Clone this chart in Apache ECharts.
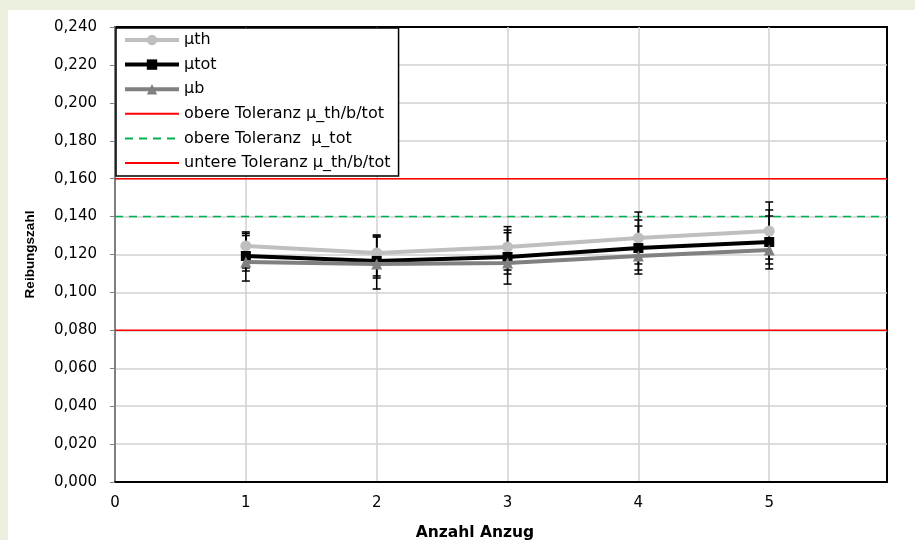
<!DOCTYPE html>
<html>
<head>
<meta charset="utf-8">
<script src="https://cdn.jsdelivr.net/npm/echarts@6/dist/echarts.min.js"></script>
<style>
  html, body { margin: 0; padding: 0; background: #ebf1de; }
  #wrap { position: absolute; left: 0; top: 0; width: 915px; height: 540px; background: #ebf1de; }
  #chart { position: absolute; left: 8px; top: 10px; width: 907px; height: 530px; background: #ffffff; }
</style>
</head>
<body>
<div id="wrap"><div id="chart"></div></div>
<script>
// ---- data ----
const categories = [1, 2, 3, 4, 5];
const muTh  = [0.1245, 0.1208, 0.1240, 0.1287, 0.1324];
const muTot = [0.1192, 0.1166, 0.1187, 0.1234, 0.1266];
const muB   = [0.1160, 0.1150, 0.1155, 0.1192, 0.1224];
const muThHigh  = [0.1319, 0.1303, 0.1347, 0.1424, 0.1477];
const muThLow   = [0.1129, 0.1087, 0.1118, 0.1150, 0.1176];
const muTotHigh = [0.1311, 0.1298, 0.1329, 0.1382, 0.1435];
const muTotLow  = [0.1113, 0.1076, 0.1097, 0.1118, 0.1150];
const muBHigh   = [0.1300, 0.1292, 0.1315, 0.1350, 0.1403];
const muBLow    = [0.1060, 0.1018, 0.1044, 0.1097, 0.1124];
const toleranceX = [0, 5.9];
const upperTol = 0.16;
const upperTolTot = 0.14;
const lowerTol = 0.08;
const seriesNames = ['µth', 'µtot', 'µb', 'obere Toleranz µ_th/b/tot', 'obere Toleranz  µ_tot', 'untere Toleranz µ_th/b/tot'];

const FONT = 'DejaVu Sans, sans-serif';
const TITLE_FONT = 'Liberation Sans, Arial, sans-serif';
const pairs = (ys) => categories.map((x, i) => [x, ys[i]]);
const errData = (lo, hi) => categories.map((x, i) => [x, lo[i], hi[i]]);
const flat = (v) => toleranceX.map(x => [x, v]);

function errRender(params, api) {
  const x = api.value(0), lo = api.value(1), hi = api.value(2);
  const p1 = api.coord([x, hi]), p2 = api.coord([x, lo]);
  const w = 4;
  const st = { stroke: '#000', lineWidth: 1.5 };
  return {
    type: 'group',
    children: [
      { type: 'line', shape: { x1: p1[0], y1: p1[1], x2: p2[0], y2: p2[1] }, style: st },
      { type: 'line', shape: { x1: p1[0] - w, y1: p1[1], x2: p1[0] + w, y2: p1[1] }, style: st },
      { type: 'line', shape: { x1: p2[0] - w, y1: p2[1], x2: p2[0] + w, y2: p2[1] }, style: st }
    ]
  };
}

const hiddenSymbol = { color: 'rgba(0,0,0,0)', borderWidth: 0 };
const legendData = [
  { name: seriesNames[0], lineStyle: { width: 4 } },
  { name: seriesNames[1], lineStyle: { width: 4 } },
  { name: seriesNames[2], lineStyle: { width: 4 } },
  { name: seriesNames[3], itemStyle: hiddenSymbol, lineStyle: { width: 2 } },
  { name: seriesNames[4], itemStyle: hiddenSymbol, lineStyle: { width: 2 } },
  { name: seriesNames[5], itemStyle: hiddenSymbol, lineStyle: { width: 2 } }
];

const chart = echarts.init(document.getElementById('chart'), null, { renderer: 'canvas' });
chart.setOption({
  animation: false,
  backgroundColor: '#ffffff',
  textStyle: { fontFamily: FONT },
  grid: {
    left: 107, top: 17, right: 28, bottom: 58,
    outerBoundsMode: 'none', containLabel: false,
    show: true, borderColor: '#000', borderWidth: 2, backgroundColor: 'transparent'
  },
  legend: {
    data: legendData,
    orient: 'vertical',
    left: 108, top: 18,
    itemWidth: 54, itemHeight: 13, itemGap: 8.6,
    padding: [4, 8, 5, 7],
    backgroundColor: '#fff',
    borderColor: '#000', borderWidth: 1.5, borderRadius: 0,
    textStyle: { fontFamily: FONT, fontSize: 16, color: '#000', lineHeight: 16 },
    z: 20
  },
  xAxis: {
    type: 'value', min: 0, max: 5.9, interval: 1,
    name: 'Anzahl Anzug', nameLocation: 'middle', nameGap: 43,
    nameTextStyle: { fontFamily: FONT, fontSize: 15.5, fontWeight: 'bold', color: '#000', padding: [0, 52, 0, 0] },
    axisLine: { show: true, lineStyle: { color: '#000', width: 2 } },
    axisTick: { show: false },
    axisLabel: {
      fontFamily: FONT, fontSize: 15, color: '#000', margin: 14,
      showMaxLabel: false,
      formatter: (v) => (Math.abs(v - Math.round(v)) < 1e-9 ? String(Math.round(v)) : '')
    },
    splitLine: { show: true, showMaxLine: false, lineStyle: { color: '#d0d0d0', width: 1.5 } }
  },
  yAxis: {
    type: 'value', min: 0, max: 0.24, interval: 0.02,
    name: 'Reibungszahl', nameLocation: 'middle', nameGap: 78,
    nameTextStyle: { fontFamily: TITLE_FONT, fontSize: 13.5, fontWeight: 'bold', color: '#000' },
    axisLine: { show: true, onZero: false, lineStyle: { color: '#808080', width: 2 } },
    axisTick: { show: true, length: 5, lineStyle: { color: '#808080', width: 1 } },
    axisLabel: {
      fontFamily: FONT, fontSize: 15, color: '#000', margin: 18,
      formatter: (v) => v.toFixed(3).replace('.', ',')
    },
    splitLine: { show: true, showMaxLine: false, lineStyle: { color: '#d0d0d0', width: 1.5 } }
  },
  series: [
    { name: 'errTh', type: 'custom', renderItem: errRender, data: errData(muThLow, muThHigh), z: 3, silent: true },
    { name: 'errTot', type: 'custom', renderItem: errRender, data: errData(muTotLow, muTotHigh), z: 3, silent: true },
    { name: 'errB', type: 'custom', renderItem: errRender, data: errData(muBLow, muBHigh), z: 3, silent: true },
    {
      name: seriesNames[0], type: 'line', data: pairs(muTh), z: 4,
      symbol: 'circle', symbolSize: 11,
      lineStyle: { color: '#bfbfbf', width: 4 }, itemStyle: { color: '#bfbfbf' }
    },
    {
      name: seriesNames[1], type: 'line', data: pairs(muTot), z: 5,
      symbol: 'rect', symbolSize: 10,
      lineStyle: { color: '#000', width: 4 }, itemStyle: { color: '#000' }
    },
    {
      name: seriesNames[2], type: 'line', data: pairs(muB), z: 6,
      symbol: 'triangle', symbolSize: 11,
      lineStyle: { color: '#808080', width: 4 }, itemStyle: { color: '#808080' }
    },
    {
      name: seriesNames[3], type: 'line', data: flat(upperTol), z: 2,
      symbol: 'none', lineStyle: { color: '#ff0000', width: 1.5 }, itemStyle: { color: '#ff0000' }
    },
    {
      name: seriesNames[4], type: 'line', data: flat(upperTolTot), z: 2,
      symbol: 'none', lineStyle: { color: '#00b050', width: 1.5, type: [8, 6] }, itemStyle: { color: '#00b050' }
    },
    {
      name: seriesNames[5], type: 'line', data: flat(lowerTol), z: 2,
      symbol: 'none', lineStyle: { color: '#ff0000', width: 1.5 }, itemStyle: { color: '#ff0000' }
    }
  ]
});
</script>
</body>
</html>
